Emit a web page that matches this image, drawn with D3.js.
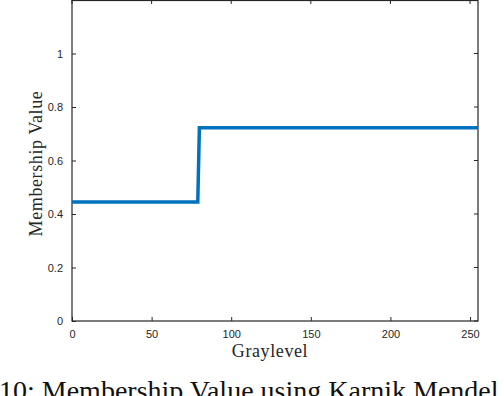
<!DOCTYPE html>
<html>
<head>
<meta charset="utf-8">
<script src="https://cdn.jsdelivr.net/npm/d3@7"></script>
<style>
  body { margin: 0; background: #fff; }
  svg { display: block; }
</style>
</head>
<body>
<svg id="chart" width="504" height="396"></svg>
<script>
// step membership curve, breakpoints
const graylevel = [0, 79, 80, 255]
const membership = [0.445, 0.445, 0.722, 0.722]
const xTicks = [0, 50, 100, 150, 200, 250]
const yTicks = [0, 0.2, 0.4, 0.6, 0.8, 1]

const margin = {left: 72, top: 0, right: 26, bottom: 75}
const width = 504, height = 396

const svg = d3.select("svg#chart")

const x = d3.scaleLinear().domain([0, 255]).range([margin.left, width - margin.right])
const y = d3.scaleLinear().domain([0, 1.2]).range([height - margin.bottom, margin.top])

const tickFont = "'Liberation Sans', Arial, sans-serif"
const serif = "'Liberation Serif', 'DejaVu Serif', serif"

// ticks inward, mirrored on top and right
const xAxis = d3.axisBottom(x).tickValues(xTicks).tickSizeInner(-4).tickSizeOuter(0).tickPadding(9)
const yAxis = d3.axisLeft(y).tickValues(yTicks).tickSizeInner(-4).tickSizeOuter(0).tickPadding(9)
  .tickFormat(d3.format("~g"))

svg.append("g")
    .attr("transform", `translate(0,${y(0)})`)
    .call(xAxis)
    .call(g => g.select(".domain").remove())
    .call(g => g.selectAll("text").attr("font-family", tickFont).attr("font-size", 11).attr("fill", "#262626"))
    .call(g => g.selectAll("line").attr("stroke", "#262626"))

svg.append("g")
    .attr("transform", `translate(${x(0)},0)`)
    .call(yAxis)
    .call(g => g.select(".domain").remove())
    .call(g => g.selectAll("text").attr("font-family", tickFont).attr("font-size", 11).attr("fill", "#262626"))
    .call(g => g.selectAll("line").attr("stroke", "#262626"))

svg.append("g")
  .selectAll("line")
  .data(xTicks)
  .join("line")
    .attr("x1", d => x(d)).attr("x2", d => x(d))
    .attr("y1", y(1.2)).attr("y2", y(1.2) + 4)
    .attr("stroke", "#262626")

svg.append("g")
  .selectAll("line")
  .data(yTicks)
  .join("line")
    .attr("x1", x(255)).attr("x2", x(255) - 4)
    .attr("y1", d => y(d)).attr("y2", d => y(d))
    .attr("stroke", "#262626")

// box
svg.append("rect")
    .attr("x", x(0)).attr("y", y(1.2) + 0.5)
    .attr("width", x(255) - x(0)).attr("height", y(0) - y(1.2) - 0.5)
    .attr("fill", "none")
    .attr("stroke", "#262626")
    .attr("stroke-width", 1.2)

const pts = graylevel.map((g, i) => [g, membership[i]])
svg.append("path")
    .datum(pts)
    .attr("fill", "none")
    .attr("stroke", "#0072BD")
    .attr("stroke-width", 3.5)
    .attr("d", d3.line().x(d => x(d[0])).y(d => y(d[1])))

svg.append("text")
    .attr("x", 270).attr("y", 357)
    .attr("text-anchor", "middle")
    .attr("font-family", serif)
    .attr("font-size", 18)
    .attr("letter-spacing", 0.6)
    .attr("fill", "#262626")
    .text("Graylevel")

svg.append("text")
    .attr("transform", `translate(42,${(y(0) + y(1.2)) / 2 + 3}) rotate(-90)`)
    .attr("text-anchor", "middle")
    .attr("font-family", serif)
    .attr("font-size", 18)
    .attr("letter-spacing", 0.6)
    .attr("fill", "#262626")
    .text("Membership Value")

svg.append("text")
    .attr("x", -1).attr("y", 400)
    .attr("font-family", serif)
    .attr("font-size", 28)
    .attr("fill", "#111")
    .text("10: Membership Value using Karnik Mendel")
</script>
</body>
</html>
